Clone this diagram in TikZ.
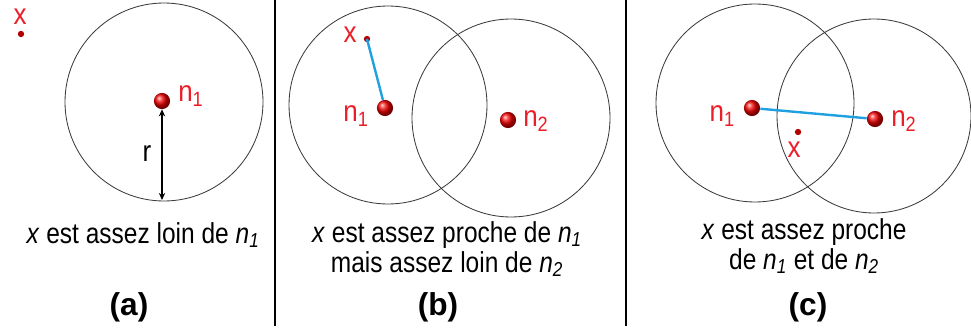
\documentclass[tikz,border=0pt]{standalone}
\usepackage{fontspec}
\setmainfont{Liberation Sans}
\usetikzlibrary{arrows.meta}
\definecolor{ptRed}{RGB}{235,30,40}
\definecolor{linkBlue}{RGB}{30,160,225}
\definecolor{ringGray}{RGB}{60,60,60}
\tikzset{
    >={Stealth[length=5pt, width=4.5pt]},
    % Points
    ball/.style={circle, inner sep=0pt, minimum size=11.5pt, shading=ball, ball color=red!95!black},
    dot/.style={circle, inner sep=0pt, minimum size=4.5pt, fill=red!70!black},
    % Shapes
    ring/.style={draw=ringGray, line width=0.6pt},
    divider/.style={draw=black, line width=1.5pt},
    % Flow & Labels
    link/.style={draw=linkBlue, line width=1.7pt},
    rarrow/.style={<->, line width=1.2pt},
    lbl/.style={text=ptRed, font=\fontsize{21}{22}\selectfont, inner sep=0pt, xscale=0.88},
    caption/.style={font=\fontsize{20.5}{21.3}\selectfont, align=center, inner sep=0pt, xscale=0.85},
    tag/.style={font=\fontsize{22.5}{24}\selectfont\bfseries, inner sep=0pt}
}

\begin{document}
\begin{tikzpicture}[x=0.025cm, y=-0.025cm]
\useasboundingbox (0,0) rectangle (971,334);

% separators
\draw[divider] (275,0) -- (275,326);
\draw[divider] (626,0) -- (626,326);

% (a)
\draw[ring] (164,102) circle[radius=99];
\node[ball] (a-n1) at (162,101) {};
\node[dot] (a-x) at (21,34) {};
\coordinate (a-bot) at (162,200);
\node[lbl, anchor=base west] (a-n1-lbl) at (178,102) {n\textsubscript{1}};
\node[lbl, anchor=base] (a-x-lbl) at (20,25) {x};
\draw[rarrow] (a-n1) -- (a-bot);
\node[lbl, text=black, anchor=base] (a-r) at (147,162) {r};
\node[caption, anchor=base] (a-cap) at (143,243) {\textit{x} est assez loin de \textit{n\textsubscript{1}}};
\node[tag] (a-tag) at (129,307) {(a)};

% (b)
\draw[ring] (388,105) circle[radius=99];
\draw[ring] (511,118) circle[radius=99];
\node[ball] (b-n1) at (385,108) {};
\node[ball] (b-n2) at (508,120) {};
\node[dot] (b-x) at (367,39) {};
\node[lbl, anchor=base] (b-x-lbl) at (350,43) {x};
\node[lbl, anchor=base] (b-n1-lbl) at (356,122) {n\textsubscript{1}};
\node[lbl, anchor=base west] (b-n2-lbl) at (523,127) {n\textsubscript{2}};
\draw[link] (b-x.center) -- (b-n1);
\node[caption] (b-cap) at (447,249) {\textit{x} est assez proche de \textit{n\textsubscript{1}}\\mais assez loin de \textit{n\textsubscript{2}}};
\node[tag] (b-tag) at (438,307) {(b)};

% (c)
\draw[ring] (755,103) circle[radius=99];
\draw[ring] (874,116) circle[radius=97];
\node[ball] (c-n1) at (752,108) {};
\node[ball] (c-n2) at (875,119) {};
\node[dot] (c-x) at (798,132) {};
\node[lbl, anchor=base] (c-x-lbl) at (794,158) {x};
\node[lbl, anchor=base east] (c-n1-lbl) at (735,122) {n\textsubscript{1}};
\node[lbl, anchor=base west] (c-n2-lbl) at (891,127) {n\textsubscript{2}};
\draw[link] (c-n1) -- (c-n2);
\node[caption] (c-cap) at (804,246) {\textit{x} est assez proche\\de \textit{n\textsubscript{1}} et de \textit{n\textsubscript{2}}};
\node[tag] (c-tag) at (808,307) {(c)};

\end{tikzpicture}
\end{document}
